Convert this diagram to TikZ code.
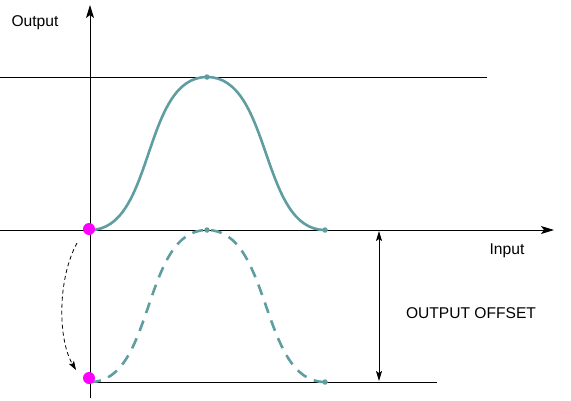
\documentclass[tikz,border=0pt]{standalone}
\usepackage{fontspec}
\setmainfont{Liberation Sans}
\usetikzlibrary{arrows.meta}
\definecolor{curvecol}{HTML}{5F9EA0}
\definecolor{pointcol}{RGB}{255,0,255}
\begin{document}
\begin{tikzpicture}[x=1pt,y=-1pt,
  axis/.style={line width=0.9pt,-{Stealth[length=13pt,width=8pt,inset=3pt]}},
  rule/.style={line width=0.9pt},
  dimarrow/.style={line width=0.9pt,{Stealth[length=10pt,width=6pt,inset=2pt]}-{Stealth[length=10pt,width=6pt,inset=2pt]}},
  movearrow/.style={line width=0.8pt,dash pattern=on 4pt off 3pt,-{Stealth[length=9pt,width=6pt,inset=2pt]}},
  solidcurve/.style={curvecol,line width=2.6pt},
  dashcurve/.style={curvecol,line width=2.6pt,dash pattern=on 11pt off 8pt},
  cmark/.style={circle,fill=curvecol,inner sep=0pt,minimum size=5.5pt},
  mdot/.style={circle,fill=pointcol,inner sep=0pt,minimum size=12pt},
  lbl/.style={font=\fontsize{15.6}{18}\selectfont,inner sep=0pt,anchor=base}]
\useasboundingbox (0,0) rectangle (571,400);
% coordinates
\coordinate (yb) at (90,398);
\coordinate (yt) at (90,5);
\coordinate (xl) at (0,230);
\coordinate (xr) at (554,230);
\coordinate (tl) at (0,77);
\coordinate (tr) at (487,77);
\coordinate (bl) at (90,382);
\coordinate (br) at (437,382);
\coordinate (s0) at (90,230);
\coordinate (s1) at (207,77);
\coordinate (s2) at (325,230);
\coordinate (d0) at (90,382);
\coordinate (d1) at (207,230);
\coordinate (d2) at (325,382);
\coordinate (oa) at (379,231);
\coordinate (ob) at (379,381);
\coordinate (ma) at (77,243);
\coordinate (mb) at (76,370);
% lines
\draw[rule] (tl) -- (tr);
\draw[rule] (bl) -- (br);
\draw[axis] (xl) -- (xr);
\draw[axis] (yb) -- (yt);
% curves
\draw[solidcurve] (s0) .. controls (155,230) and (142,77) .. (s1)
  .. controls (272,77) and (260,230) .. (s2);
\draw[dashcurve] (d0) .. controls (155,382) and (142,230) .. (d1)
  .. controls (272,230) and (260,382) .. (d2);
\node[cmark] (k1) at (s1) {};
\node[cmark] (k2) at (s2) {};
\node[cmark] (k3) at (d1) {};
\node[cmark] (k4) at (d2) {};
% magenta points
\node[mdot] (m1) at (89,229) {};
\node[mdot] (m2) at (89,378) {};
% arrows
\draw[movearrow] (ma) .. controls (57,280) and (58,340) .. (mb);
\draw[dimarrow] (oa) -- (ob);
% labels
\node[lbl] (lout) at (35,26.5) {Output};
\node[lbl] (lin) at (507,254) {Input};
\node[lbl] (loff) at (471,318) {OUTPUT OFFSET};
\end{tikzpicture}
\end{document}
